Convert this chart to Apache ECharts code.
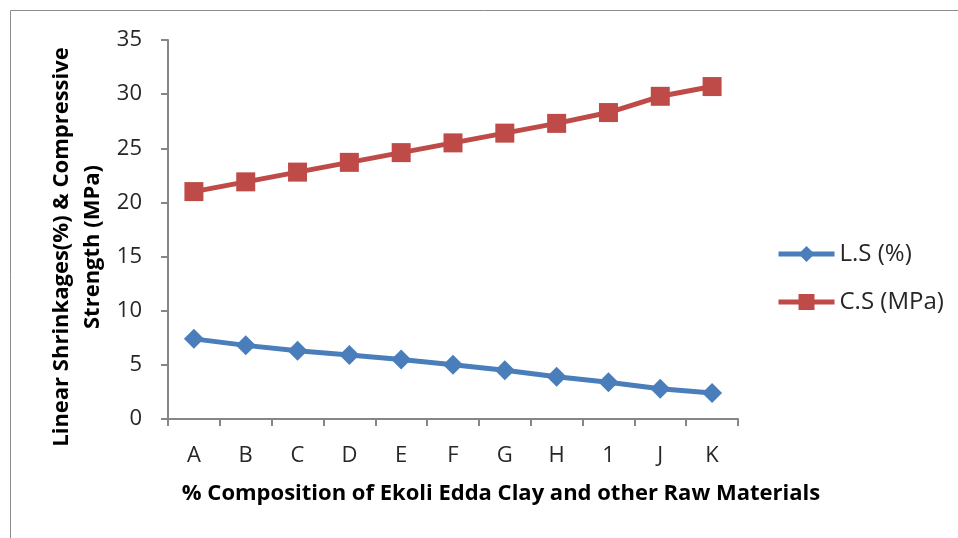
<!DOCTYPE html>
<html>
<head>
<meta charset="utf-8">
<script src="https://cdn.jsdelivr.net/npm/echarts@6/dist/echarts.min.js"></script>
<style>
  html, body { margin: 0; padding: 0; background: #ffffff; }
  #chart { width: 958px; height: 538px; }
</style>
</head>
<body>
<div id="chart"></div>
<script>
// Mix designations along the horizontal axis
const categories = ['A', 'B', 'C', 'D', 'E', 'F', 'G', 'H', '1', 'J', 'K'];
// Linear shrinkage, percent
const linearShrinkage = [7.4, 6.8, 6.3, 5.9, 5.5, 5.0, 4.5, 3.9, 3.4, 2.8, 2.4];
// Compressive strength, MPa
const compressiveStrength = [21.0, 21.9, 22.8, 23.7, 24.6, 25.5, 26.4, 27.3, 28.3, 29.8, 30.7];
// Value axis range and step
const yMin = 0;
const yMax = 35;
const yStep = 5;
// Vertical axis title, one entry per line
const yTitleLines = ['Linear Shrinkages(%) & Compressive', 'Strength (MPa)'];

const FONT = '"Open Sans"';
const AXIS_GREY = '#868686';
const TEXT = '#262626';

// each title line is rotated to read bottom to top and centred on the plot height
function yTitleLine(text, x) {
  return {
    type: 'text',
    x: x,
    y: 247,
    rotation: Math.PI / 2,
    style: {
      text: text,
      font: 'bold 22px "Open Sans"',
      fill: '#000000',
      align: 'center',
      verticalAlign: 'middle'
    },
    silent: true
  };
}

const chart = echarts.init(document.getElementById('chart'), null, { renderer: 'canvas' });

chart.setOption({
  animation: false,
  backgroundColor: '#ffffff',
  graphic: [
    {
      // chart frame
      type: 'rect',
      shape: { x: 10.5, y: 10.5, width: 1000, height: 1000 },
      style: { fill: 'none', stroke: '#8c8c8c', lineWidth: 1 },
      silent: true
    },
    yTitleLine(yTitleLines[0], 62),
    yTitleLine(yTitleLines[1], 93)
  ],
  grid: { left: 168, right: 220, top: 40, bottom: 119 },
  legend: {
    orient: 'vertical',
    left: 776,
    top: 242,
    padding: 0,
    itemWidth: 56,
    itemHeight: 20,
    itemGap: 24,
    lineStyle: { width: 5 },
    textStyle: { fontFamily: FONT, fontSize: 24, color: TEXT },
    data: ['L.S (%)', 'C.S (MPa)']
  },
  xAxis: {
    type: 'category',
    data: categories,
    boundaryGap: true,
    axisLine: { lineStyle: { color: AXIS_GREY, width: 2 } },
    axisTick: { show: true, length: 7, alignWithLabel: false, lineStyle: { color: AXIS_GREY, width: 2 } },
    axisLabel: { fontFamily: FONT, fontSize: 22, color: TEXT, margin: 26 },
    splitLine: { show: false },
    name: '% Composition of Ekoli Edda Clay and other Raw Materials',
    nameLocation: 'middle',
    nameGap: 64,
    nameTextStyle: { fontFamily: FONT, fontSize: 22, fontWeight: 'bold', color: '#000000', padding: [0, 0, 0, 96] }
  },
  yAxis: {
    type: 'value',
    min: yMin,
    max: yMax,
    interval: yStep,
    axisLine: { show: true, lineStyle: { color: AXIS_GREY, width: 2 } },
    axisTick: { show: true, length: 7, inside: false, lineStyle: { color: AXIS_GREY, width: 2 } },
    axisLabel: { fontFamily: FONT, fontSize: 22, color: TEXT, margin: 26 },
    splitLine: { show: false }
  },
  series: [
    {
      name: 'L.S (%)',
      type: 'line',
      data: linearShrinkage,
      symbol: 'diamond',
      symbolSize: 20,
      lineStyle: { color: '#4a7ebb', width: 5 },
      itemStyle: { color: '#4a7ebb' }
    },
    {
      name: 'C.S (MPa)',
      type: 'line',
      data: compressiveStrength,
      symbol: 'rect',
      symbolSize: 19,
      lineStyle: { color: '#be4b48', width: 5 },
      itemStyle: { color: '#be4b48' }
    }
  ]
});
</script>
</body>
</html>
